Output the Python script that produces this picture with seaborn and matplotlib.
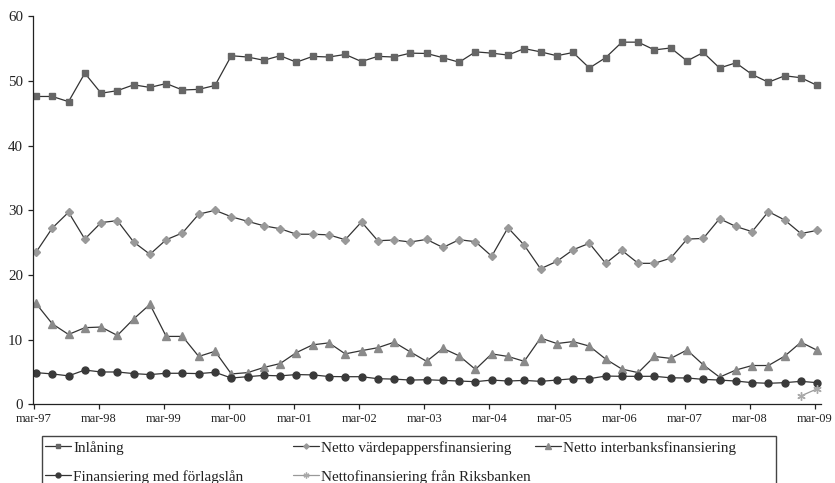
import numpy as np
import matplotlib.pyplot as plt
import seaborn as sns
from matplotlib.patches import Rectangle

sns.set_style("ticks")
plt.rcParams['font.family'] = ['Liberation Serif', 'DejaVu Serif']

# quarterly, mar-97 .. mar-09
quarters = np.arange(49)
tick_labels = ["mar-97", "mar-98", "mar-99", "mar-00", "mar-01", "mar-02", "mar-03",
               "mar-04", "mar-05", "mar-06", "mar-07", "mar-08", "mar-09"]

inlaning = [47.6, 47.6, 46.8, 51.2, 48.1, 48.5, 49.4, 49.0, 49.6, 48.6, 48.7, 49.3,
            53.9, 53.7, 53.2, 53.9, 52.9, 53.8, 53.7, 54.1, 53.0, 53.8, 53.7, 54.3,
            54.25, 53.6, 52.9, 54.5, 54.3, 54.0, 55.0, 54.5, 53.9, 54.4, 52.0, 53.6,
            56.0, 56.0, 54.8, 55.1, 53.1, 54.4, 52.0, 52.8, 51.0, 49.8, 50.8, 50.5, 49.3]
vardepapper = [23.5, 27.25, 29.7, 25.55, 28.1, 28.4, 25.1, 23.2, 25.45, 26.5, 29.4, 30.0,
               29.0, 28.3, 27.6, 27.15, 26.3, 26.3, 26.2, 25.45, 28.2, 25.3, 25.4, 25.1,
               25.5, 24.25, 25.45, 25.15, 22.9, 27.3, 24.6, 20.96, 22.1, 23.9, 24.9, 21.8,
               23.8, 21.8, 21.8, 22.6, 25.55, 25.65, 28.7, 27.5, 26.7, 29.8, 28.5, 26.4, 26.9]
interbank = [15.6, 12.45, 10.8, 11.85, 11.95, 10.65, 13.2, 15.45, 10.5, 10.5, 7.4, 8.2,
             4.7, 4.9, 5.7, 6.3, 8.0, 9.2, 9.5, 7.8, 8.3, 8.75, 9.6, 8.1,
             6.65, 8.65, 7.5, 5.4, 7.8, 7.4, 6.65, 10.25, 9.4, 9.7, 9.0, 7.0,
             5.45, 4.9, 7.4, 7.1, 8.4, 6.1, 4.2, 5.3, 6.0, 6.0, 7.45, 9.6, 8.35]
forlagslan = [4.9, 4.7, 4.4, 5.3, 5.0, 5.0, 4.75, 4.6, 4.8, 4.8, 4.75, 4.95,
              4.07, 4.27, 4.48, 4.4, 4.6, 4.55, 4.3, 4.27, 4.27, 3.96, 3.9, 3.75,
              3.8, 3.7, 3.6, 3.5, 3.75, 3.6, 3.7, 3.55, 3.75, 3.96, 3.96, 4.37,
              4.33, 4.33, 4.33, 4.1, 4.07, 3.86, 3.75, 3.6, 3.35, 3.25, 3.35, 3.55, 3.35]
riks_quarters = [47, 48]
riksbanken = [1.3, 2.4]

fig = plt.figure(figsize=(8.35, 4.83), dpi=100)
ax = fig.add_axes([0.0401, 0.1629, 0.9427, 0.8034])

line_col = "#333333"
series = [
    ("Inlåning", quarters, inlaning, "s", "#666666", 4.8, line_col),
    ("Netto värdepappersfinansiering", quarters, vardepapper, "D", "#999999", 3.8, line_col),
    ("Netto interbanksfinansiering", quarters, interbank, "^", "#8a8a8a", 5.2, line_col),
    ("Finansiering med förlagslån", quarters, forlagslan, "o", "#3a3a3a", 5.0, line_col),
    ("Nettofinansiering från Riksbanken", riks_quarters, riksbanken, (6, 2, 0), "#aaaaaa", 6.0, "#999999"),
]

for name, xs, ys, mk, mcol, ms, lc in series:
    sns.lineplot(x=xs, y=ys, ax=ax, color=lc, lw=0.9, marker=mk, markersize=ms,
                 markerfacecolor=mcol, markeredgecolor=mcol, markeredgewidth=1.0,
                 label=name, legend=False)

ax.set_xlim(-0.154, 48.21)
ax.set_ylim(0, 60)
ax.set_xticks(np.arange(0, 49, 4) - 0.14)
ax.set_xticklabels(tick_labels)
ax.set_yticks([0, 10, 20, 30, 40, 50, 60])
ax.tick_params(axis='x', labelsize=9.0, length=3.5, width=0.9, pad=3, colors="#222222")
ax.tick_params(axis='y', labelsize=10.8, length=3.5, width=0.9, pad=4, colors="#222222")
for s in ["top", "right"]:
    ax.spines[s].set_visible(False)
for s in ["left", "bottom"]:
    ax.spines[s].set_color("#222222")
    ax.spines[s].set_linewidth(0.9)
ax.set_xlabel("")
ax.set_ylabel("")

handles = ax.get_lines()
names = [s[0] for s in series]
cols = [([0, 3], 45), ([1, 4], 292.7), ([2], 535)]
for idx, xpx in cols:
    leg = fig.legend([handles[i] for i in idx], [names[i] for i in idx],
                     loc="upper left", bbox_to_anchor=(xpx / 835, 1 - 441 / 483),
                     frameon=False, fontsize=10.9, handlelength=1.75, handletextpad=0.13,
                     labelspacing=1.0, borderpad=0, borderaxespad=0, markerscale=0.7)
    for t in leg.get_texts():
        t.set_color("#222222")

fig.add_artist(Rectangle((42.3 / 835, -0.05), (776 - 42.3) / 835, 0.05 + 1 - 435.7 / 483,
                         transform=fig.transFigure, fill=False, edgecolor="#444444", lw=1.0))

fig.savefig("out.png", dpi=100)
